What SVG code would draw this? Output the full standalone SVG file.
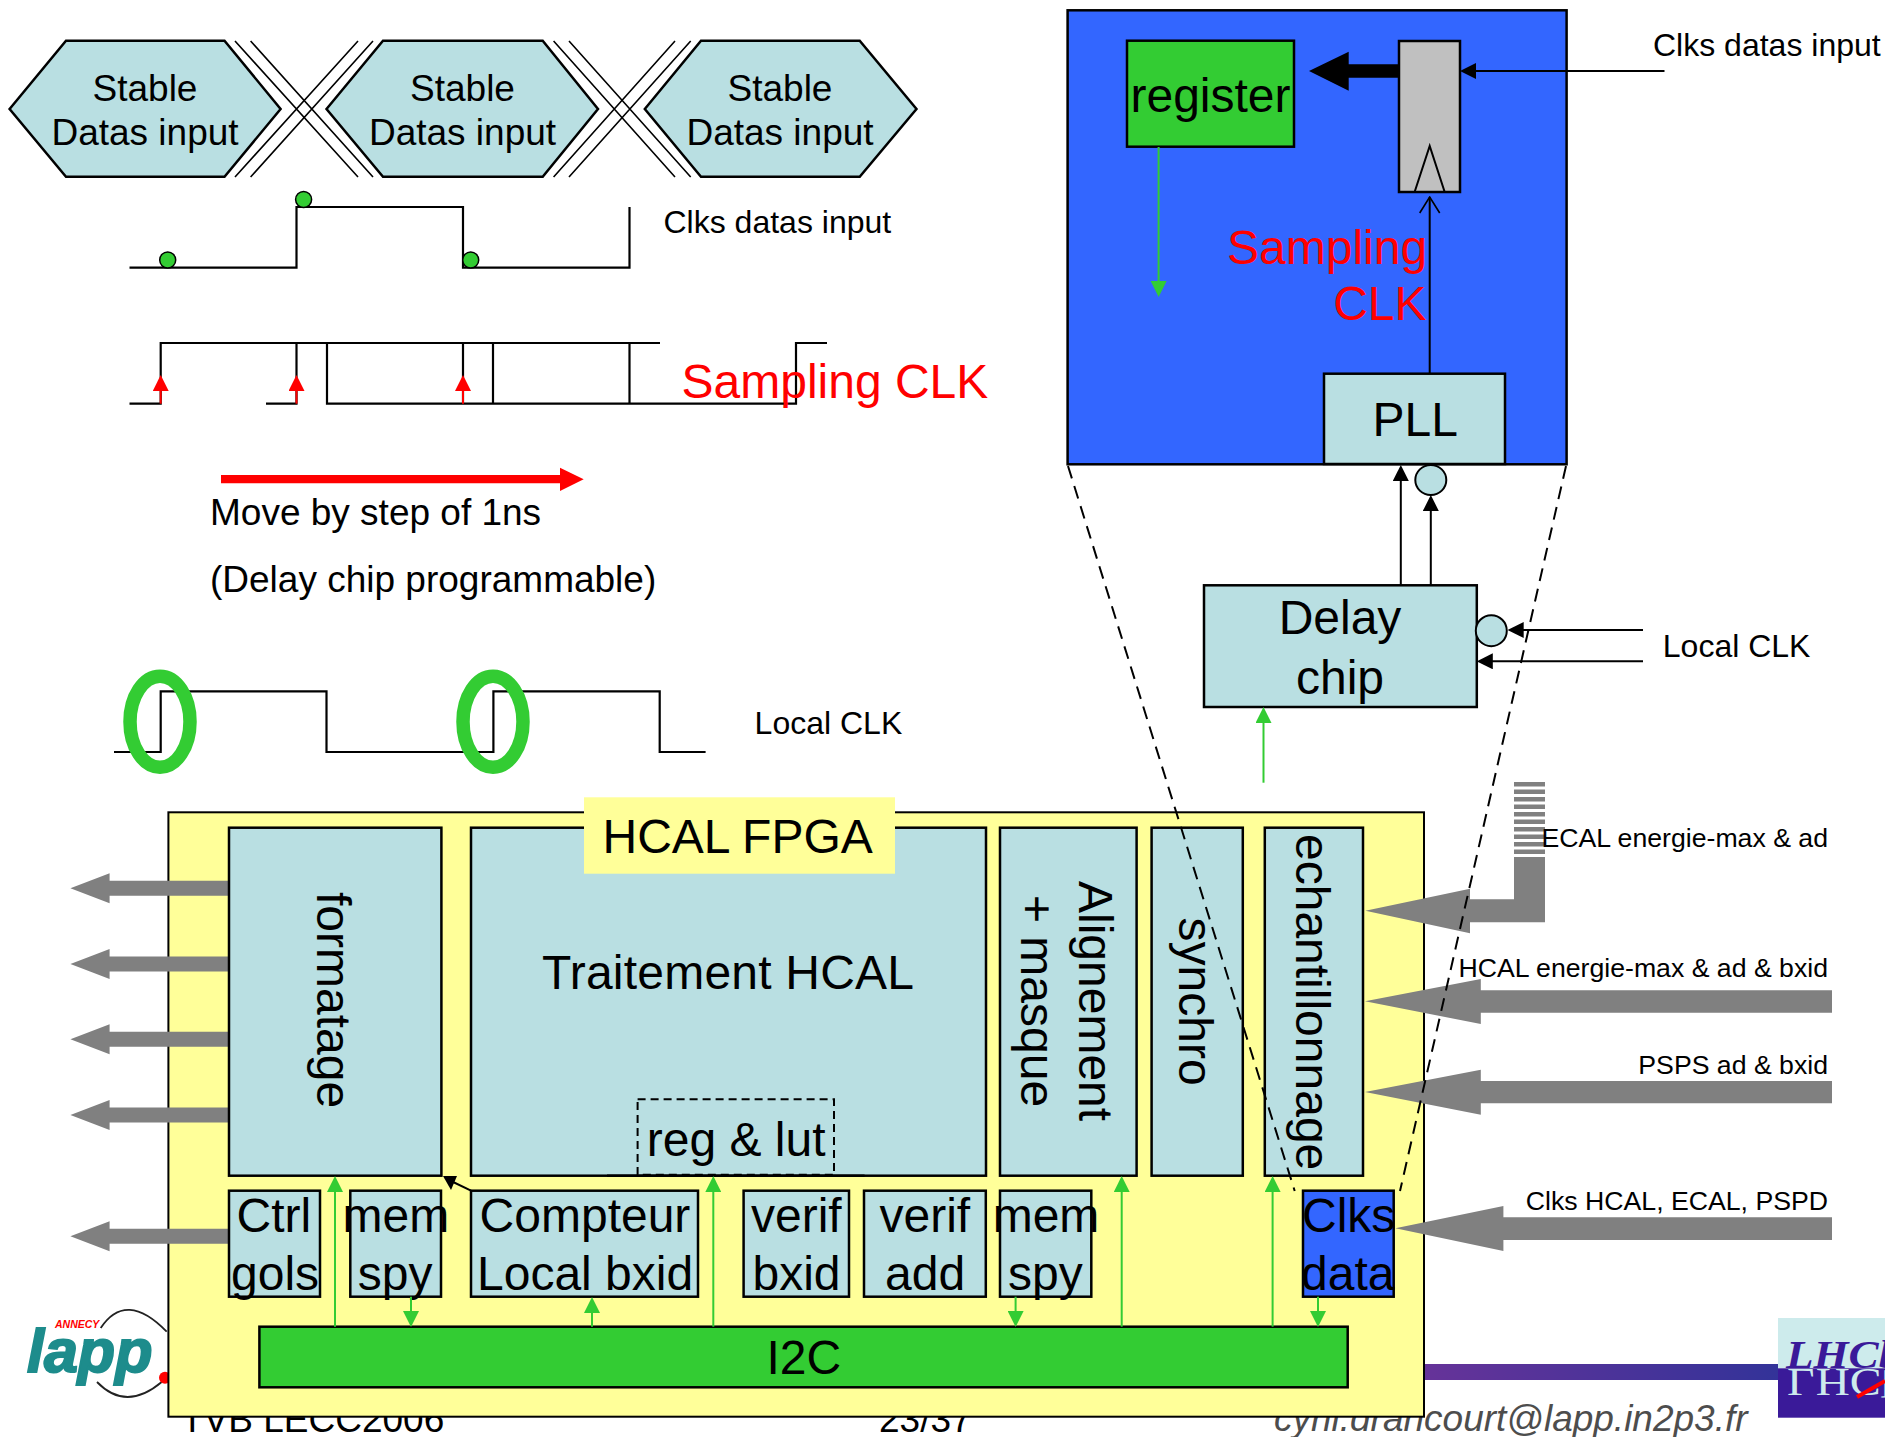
<svg xmlns="http://www.w3.org/2000/svg" width="1885" height="1437" viewBox="0 0 1885 1437">
<style>
text{font-family:"Liberation Sans",Arial,sans-serif;fill:#000}
.t48{font-size:48px}.t37{font-size:37px}.t32{font-size:32px}.t27{font-size:26.67px}
.red{fill:#f00}
.m{text-anchor:middle}
.e{text-anchor:end}
.b{fill:#b9dfe2;stroke:#000;stroke-width:2.5}
.gb{fill:#3c3;stroke:#000;stroke-width:2.5}
.ar{fill:#808080;stroke:none}
.w{fill:none;stroke:#000;stroke-width:2.2}
.x{fill:none;stroke:#000;stroke-width:1.6}
.l{fill:none;stroke:#000;stroke-width:2}
.g{fill:none;stroke:#3c3;stroke-width:2}
.r{fill:none;stroke:#f00;stroke-width:2}
.d{fill:none;stroke:#000;stroke-width:2;stroke-dasharray:13 8}
</style>
<defs>
<marker id="mg" markerUnits="userSpaceOnUse" markerWidth="16" markerHeight="16" viewBox="0 0 16 16" refX="13" refY="8" orient="auto"><path d="M0,0L16,8L0,16z" fill="#3c3"/></marker>
<marker id="mk" markerUnits="userSpaceOnUse" markerWidth="16" markerHeight="16" viewBox="0 0 16 16" refX="13" refY="8" orient="auto"><path d="M0,0L16,8L0,16z" fill="#000"/></marker>
<marker id="mr" markerUnits="userSpaceOnUse" markerWidth="16" markerHeight="16" viewBox="0 0 16 16" refX="13" refY="8" orient="auto"><path d="M0,0L16,8L0,16z" fill="#f00"/></marker>
<marker id="mo" markerUnits="userSpaceOnUse" markerWidth="18" markerHeight="22" viewBox="0 0 18 22" refX="17" refY="11" orient="auto"><path d="M1,1L17,11L1,21" fill="none" stroke="#000" stroke-width="1.6"/></marker>
<linearGradient id="bar" x1="0" x2="1" y1="0" y2="0"><stop offset="0" stop-color="#663399"/><stop offset="1" stop-color="#333399"/></linearGradient>
</defs>

<g id="footer">
<rect x="1424" y="1364" width="354" height="16" fill="url(#bar)"/>
<text x="181" y="1432" class="t37">TVB LECC2006</text>
<text x="879" y="1432" class="t37">23/37</text>
<text x="1274" y="1431" class="t37" font-style="italic" style="fill:#4d4d4d">cyril.drancourt@lapp.in2p3.fr</text>
</g>

<g id="logo-lapp">
<path d="M100.7,1328Q126,1290 166.7,1331.7M97,1382Q126,1412 161.7,1382" fill="none" stroke="#222" stroke-width="1.8"/>
<circle cx="165" cy="1377.7" r="6" fill="#f00"/>
<text x="27" y="1371.7" font-size="61" font-weight="bold" font-style="italic" style="fill:#1d8c8c;stroke:#1d8c8c;stroke-width:2">lapp</text>
<text x="55" y="1327.7" font-size="10.5" font-weight="bold" font-style="italic" class="red">ANNECY</text>
</g>

<g id="logo-lhcb">
<rect x="1778" y="1318" width="107" height="50.3" fill="#cdebec"/>
<rect x="1778" y="1368.3" width="107" height="49.4" fill="#3a1a99"/>
<text transform="translate(1786,1368) scale(1.1,1)" font-size="41" font-style="italic" style="font-family:'Liberation Serif',serif;fill:#3a1a99;font-weight:bold">LHCb</text>
<text transform="translate(1787,1368.5) scale(1.15,-1)" font-size="41" style="font-family:'Liberation Serif',serif;fill:#cdebec">LHCb</text>
<path d="M1857,1397L1885,1381" stroke="#f00" stroke-width="4" fill="none"/>
</g>

<g id="hcal-fpga">
<rect x="168.4" y="812.3" width="1255.6" height="604.4" fill="#ff9" stroke="#000" stroke-width="2"/>
</g>

<g id="gray-arrows">
<path class="ar" d="M70.4,888.3L109.6,873.3V880.8H229V895.8H109.6V903.3Z"/>
<path class="ar" d="M70.4,964L109.6,949V956.5H229V971.5H109.6V979Z"/>
<path class="ar" d="M70.4,1039.3L109.6,1024.3V1031.8H229V1046.8H109.6V1054.3Z"/>
<path class="ar" d="M70.4,1115L109.6,1100V1107.5H229V1122.5H109.6V1130Z"/>
<path class="ar" d="M70.4,1236.3L109.6,1221.3V1228.8H229V1243.8H109.6V1251.3Z"/>
<path class="ar" d="M1365.4,910.7L1470,888.7V899.3H1514V858H1545V922.3H1470V933.3Z"/>
<line x1="1529.5" x2="1529.5" y1="782" y2="858" stroke="#808080" stroke-width="31" stroke-dasharray="4.6 2.9"/>
<path class="ar" d="M1365,1001.3L1480.8,979V990.3H1832V1012.7H1480.8V1024Z"/>
<path class="ar" d="M1365,1092L1480.8,1069.7V1081H1832V1103.3H1480.8V1114.7Z"/>
<path class="ar" d="M1395.4,1228.3L1503.4,1206V1217.3H1832V1240H1503.4V1251Z"/>
</g>

<g id="stable-1">
<path class="b" d="M9.6,109L66,40.7H224.5L280.6,109L224.5,176.7H66Z"/>
<text x="145" y="100.5" class="t37 m">Stable</text><text x="145" y="145.2" class="t37 m">Datas input</text>
</g>
<g id="stable-2">
<path class="b" d="M326.5,109L383,40.7H542.7L598,109L542.7,176.7H383Z"/>
<text x="462.5" y="100.5" class="t37 m">Stable</text><text x="462.5" y="145.2" class="t37 m">Datas input</text>
</g>
<g id="stable-3">
<path class="b" d="M644.8,109L701,40.7H859.7L916.5,109L859.7,176.7H701Z"/>
<text x="780" y="100.5" class="t37 m">Stable</text><text x="780" y="145.2" class="t37 m">Datas input</text>
</g>

<g id="timing">
<path class="x" d="M235,41L358,177M250.6,41L373,177M358,41L235,177M373,41L250.6,177"/>
<path class="x" d="M553.6,41L675,177M569,41L690.7,177M675,41L553.6,177M690.7,41L569,177"/>
<path class="w" d="M129.5,267.7H296.5V207H463V267.7H629.5V207"/>
<ellipse cx="167.7" cy="260" rx="8" ry="8" fill="#3c3" stroke="#000" stroke-width="1.5"/>
<ellipse cx="303.6" cy="199.5" rx="8" ry="8" fill="#3c3" stroke="#000" stroke-width="1.5"/>
<ellipse cx="470.7" cy="260" rx="8" ry="8" fill="#3c3" stroke="#000" stroke-width="1.5"/>
<path class="w" d="M129.5,403.7H160.7V343H660M266,403.7H296.5V343M327,343V403.7H796V343H827M463,343V403.7M493,343V403.7M629.5,343V403.7"/>
<path class="w" d="M114,752H160.7V691.3H326.5V752H493.4V691.3H659.7V752H705.6"/>
<ellipse cx="160" cy="721.7" rx="30" ry="45.5" fill="none" stroke="#3c3" stroke-width="13.5"/>
<ellipse cx="493" cy="721.7" rx="30" ry="45.5" fill="none" stroke="#3c3" stroke-width="13.5"/>
<path fill="#f00" d="M221,475H560V467.7L583.7,479.3L560,491V483.3H221Z"/>
<line class="r" x1="160.7" y1="403.7" x2="160.7" y2="378" marker-end="url(#mr)"/>
<line class="r" x1="296.5" y1="403.7" x2="296.5" y2="378" marker-end="url(#mr)"/>
<line class="r" x1="463" y1="403.7" x2="463" y2="378" marker-end="url(#mr)"/>
<text x="663.5" y="233" class="t32">Clks datas input</text>
<text x="681.5" y="397.7" class="t48 red">Sampling CLK</text>
<text x="210" y="525" class="t37">Move by step of 1ns</text>
<text x="210" y="592" class="t37">(Delay chip programmable)</text>
<text x="754.6" y="734" class="t32">Local CLK</text>
</g>

<g id="sampling-stage">
<rect x="1067.6" y="10.3" width="499" height="454" fill="#36f" stroke="#000" stroke-width="2.5"/>
</g>
<g id="register">
<rect class="gb" x="1127" y="40.7" width="167" height="106"/>
<text x="1210.5" y="112" class="t48 m">register</text>
</g>
<g id="flip-flop">
<rect x="1399" y="41" width="61" height="151" fill="#c0c0c0" stroke="#000" stroke-width="2.5"/>
<path class="l" d="M1414.7,191.7L1429.7,146L1444.6,191.7"/>
</g>
<g id="pll">
<rect class="b" x="1324" y="373.7" width="181" height="90.3"/>
<text x="1372.5" y="436" class="t48">PLL</text>
</g>
<g id="inverter-top"><ellipse class="b" style="stroke-width:2" cx="1430.8" cy="480" rx="15.5" ry="15"/></g>
<g id="delay-chip">
<rect class="b" x="1204" y="585.3" width="272.8" height="121.7"/>
<text x="1340" y="634" class="t48 m">Delay</text>
<text x="1340" y="693.5" class="t48 m">chip</text>
</g>
<g id="inverter-side"><ellipse class="b" style="stroke-width:2" cx="1491.3" cy="630.7" rx="15.5" ry="15.5"/></g>

<g id="formatage">
<rect class="b" x="229" y="827.7" width="212.4" height="348"/>
<text transform="translate(317,892) rotate(90)" class="t48">formatage</text>
</g>
<g id="traitement">
<rect class="b" x="471" y="827.7" width="515" height="348"/>
<text x="542" y="989.3" class="t48" textLength="372">Traitement HCAL</text>
<line x1="607" x2="864.6" y1="1175.7" y2="1175.7" stroke="#000" stroke-width="2.5"/>
<rect x="637.6" y="1099.3" width="196.4" height="75.4" fill="none" stroke="#000" stroke-width="2" stroke-dasharray="8 5"/>
<text x="646.8" y="1156" class="t48">reg &amp; lut</text>
</g>
<g id="fpga-label">
<rect x="584" y="797.3" width="311" height="76.4" fill="#ff9"/>
<text x="602.5" y="852.7" class="t48">HCAL FPGA</text>
</g>
<g id="alignement">
<rect class="b" x="1000" y="827.7" width="136.6" height="348"/>
<text transform="translate(1078.5,881) rotate(90)" class="t48">Alignement</text>
<text transform="translate(1021,895) rotate(90)" class="t48">+ masque</text>
</g>
<g id="synchro">
<rect class="b" x="1151.6" y="827.7" width="91.2" height="348"/>
<text transform="translate(1179,917.5) rotate(90)" class="t48">synchro</text>
</g>
<g id="echantillonnage">
<rect class="b" x="1264.8" y="827.7" width="98.2" height="348"/>
<text transform="translate(1295.5,834) rotate(90)" class="t48">echantillonnage</text>
</g>
<g id="ctrl-gols">
<rect class="b" x="229" y="1190.7" width="91" height="106"/>
<text x="236.6" y="1231.7" class="t48">Ctrl</text><text x="231" y="1289.7" class="t48">gols</text>
</g>
<g id="mem-spy-1">
<rect class="b" x="350.3" y="1190.7" width="90.7" height="106"/>
<text x="342.6" y="1231.7" class="t48">mem</text><text x="357.8" y="1289.7" class="t48">spy</text>
</g>
<g id="compteur">
<rect class="b" x="471" y="1190.7" width="227" height="106"/>
<text x="479.6" y="1231.7" class="t48">Compteur</text><text x="477" y="1289.7" class="t48">Local bxid</text>
</g>
<g id="verif-bxid">
<rect class="b" x="743.6" y="1190.7" width="105.4" height="106"/>
<text x="751" y="1231.7" class="t48">verif</text><text x="752.5" y="1289.7" class="t48">bxid</text>
</g>
<g id="verif-add">
<rect class="b" x="864" y="1190.7" width="121.8" height="106"/>
<text x="879.5" y="1231.7" class="t48">verif</text><text x="885" y="1289.7" class="t48">add</text>
</g>
<g id="mem-spy-2">
<rect class="b" x="1000" y="1190.7" width="91.3" height="106"/>
<text x="992.7" y="1231.7" class="t48">mem</text><text x="1008" y="1289.7" class="t48">spy</text>
</g>
<g id="clks-data">
<rect x="1303" y="1190.7" width="90.7" height="106" fill="#36f" stroke="#000" stroke-width="2.5"/>
<text x="1302" y="1231.7" class="t48">Clks</text><text x="1301" y="1289.7" class="t48">data</text>
</g>
<g id="i2c">
<rect class="gb" x="259.4" y="1326.7" width="1088.3" height="60.6"/>
<text x="766.5" y="1374" class="t48">I2C</text>
</g>

<g id="connectors">
<line class="g" x1="335" y1="1326.7" x2="335" y2="1179" marker-end="url(#mg)"/>
<line class="g" x1="411" y1="1296.7" x2="411" y2="1324" marker-end="url(#mg)"/>
<line class="g" x1="592" y1="1326.7" x2="592" y2="1300" marker-end="url(#mg)"/>
<line class="g" x1="713.3" y1="1326.7" x2="713.3" y2="1179" marker-end="url(#mg)"/>
<line class="g" x1="1015.6" y1="1296.7" x2="1015.6" y2="1324" marker-end="url(#mg)"/>
<line class="g" x1="1121.7" y1="1326.7" x2="1121.7" y2="1179" marker-end="url(#mg)"/>
<line class="g" x1="1272.6" y1="1326.7" x2="1272.6" y2="1179" marker-end="url(#mg)"/>
<line class="g" x1="1318" y1="1296.7" x2="1318" y2="1324" marker-end="url(#mg)"/>
<line class="g" x1="1263.5" y1="782.7" x2="1263.5" y2="710" marker-end="url(#mg)"/>
<line class="g" x1="1158.6" y1="147" x2="1158.6" y2="294" marker-end="url(#mg)"/>
<path d="M443,1176H457L451,1190Z" fill="#000"/><line class="l" x1="451" y1="1181" x2="471" y2="1190.7"/>
<path fill="#000" d="M1309,71L1348.7,51.7V64.3H1399V77.7H1348.7V90.7Z"/>
<line class="l" x1="1664.5" y1="71" x2="1463" y2="71" marker-end="url(#mk)"/>
<line class="l" x1="1429.7" y1="373.7" x2="1429.7" y2="197" marker-end="url(#mo)"/>
<line class="l" x1="1400.8" y1="585.3" x2="1400.8" y2="468" marker-end="url(#mk)"/>
<line class="l" x1="1430.8" y1="585.3" x2="1430.8" y2="498" marker-end="url(#mk)"/>
<line class="l" x1="1643" y1="630" x2="1510.7" y2="630" marker-end="url(#mk)"/>
<line class="l" x1="1643" y1="661.3" x2="1479.8" y2="661.3" marker-end="url(#mk)"/>
<line class="d" x1="1068" y1="466" x2="1294.7" y2="1191"/>
<line class="d" x1="1566" y1="466" x2="1400" y2="1191"/>
</g>

<g id="labels">
<text x="1227" y="264" class="t48 red">Sampling</text>
<text x="1426.5" y="320" class="t48 red e">CLK</text>
<text x="1653" y="55.5" class="t32">Clks datas input</text>
<text x="1662.8" y="656.7" class="t32">Local CLK</text>
<text x="1828" y="847" class="t27 e">ECAL energie-max &amp; ad</text>
<text x="1828" y="977" class="t27 e">HCAL energie-max &amp; ad &amp; bxid</text>
<text x="1828" y="1074" class="t27 e">PSPS ad &amp; bxid</text>
<text x="1828" y="1210" class="t27 e">Clks HCAL, ECAL, PSPD</text>
</g>
</svg>
